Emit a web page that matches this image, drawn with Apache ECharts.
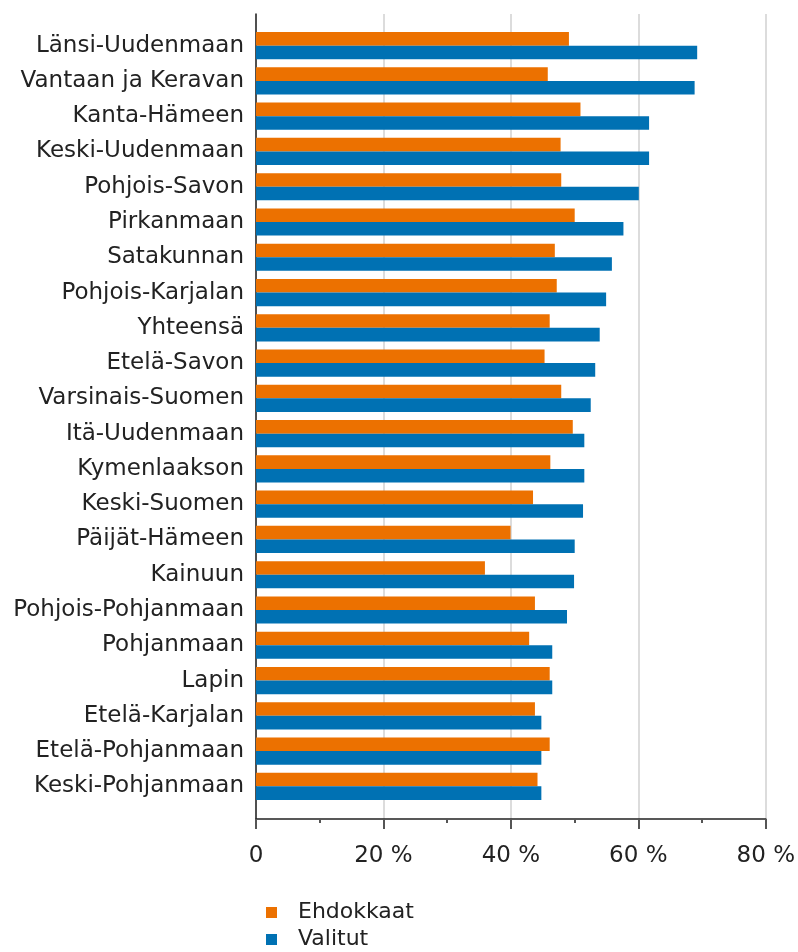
<!DOCTYPE html>
<html>
<head>
<meta charset="utf-8">
<script src="https://cdn.jsdelivr.net/npm/echarts@6/dist/echarts.min.js"></script>
<style>
	html, body { margin: 0; padding: 0; background: #fff; }
	#main { width: 798px; height: 952px; }
</style>
</head>
<body>
<div id="main"></div>
<script>
// kategoriat (ylhäältä alas)
var categories = ['Länsi-Uudenmaan', 'Vantaan ja Keravan', 'Kanta-Hämeen', 'Keski-Uudenmaan',
	'Pohjois-Savon', 'Pirkanmaan', 'Satakunnan', 'Pohjois-Karjalan', 'Yhteensä', 'Etelä-Savon',
	'Varsinais-Suomen', 'Itä-Uudenmaan', 'Kymenlaakson', 'Keski-Suomen', 'Päijät-Hämeen',
	'Kainuun', 'Pohjois-Pohjanmaan', 'Pohjanmaan', 'Lapin', 'Etelä-Karjalan',
	'Etelä-Pohjanmaan', 'Keski-Pohjanmaan'];
// naisten osuus, %
var ehdokkaat = [48.8, 45.5, 50.6, 47.5, 47.6, 49.7, 46.6, 46.9, 45.8, 45.0,
	47.6, 49.4, 45.9, 43.2, 39.7, 35.7, 43.5, 42.6, 45.8, 43.5, 45.8, 43.9];
var valitut = [68.8, 68.4, 61.3, 61.3, 59.7, 57.3, 55.5, 54.6, 53.6, 52.9,
	52.2, 51.2, 51.2, 51.0, 49.7, 49.6, 48.5, 46.2, 46.2, 44.5, 44.5, 44.5];
var seriesNames = ['Ehdokkaat', 'Valitut'];
var xTicks = [0, 20, 40, 60, 80];

var font = "'DejaVu Sans', Verdana, sans-serif";

var myChart = echarts.init(document.getElementById('main'));

var option = {
	backgroundColor: '#fff',
	animation: false,
	textStyle: { fontFamily: font },
	color: ['#ec7100', '#0071b3'],
	legend: {
		data: seriesNames,
		orient: 'vertical',
		left: 266,
		top: 901,
		padding: 0,
		itemWidth: 11,
		itemHeight: 11,
		itemGap: 4,
		icon: 'rect',
		textStyle: {
			color: '#222',
			fontSize: 22,
			lineHeight: 23,
			fontFamily: font,
			padding: [0, 0, 0, 16]
		}
	},
	grid: [
		// palkit
		{ left: 256, right: 29, top: 28, bottom: 148 },
		// akselit ja apuviivat
		{ left: 256, right: 29, top: 14, bottom: 133 }
	],
	xAxis: [{
		gridIndex: 0,
		type: 'value',
		min: 0,
		max: 80,
		show: false
	}, {
		gridIndex: 1,
		type: 'value',
		min: xTicks[0],
		max: xTicks[xTicks.length - 1],
		interval: 20,
		axisLine: { show: true, lineStyle: { color: '#222', width: 1.5 } },
		axisTick: { show: true, length: 10, lineStyle: { color: '#555', width: 2 } },
		minorTick: { show: true, splitNumber: 2, length: 4, lineStyle: { color: '#555', width: 2 } },
		splitLine: { show: true, lineStyle: { color: '#dcdcdc', width: 2 } },
		axisLabel: {
			color: '#222',
			fontSize: 23,
			margin: 26,
			fontFamily: font,
			formatter: function (v) {
				return v === 0 ? '0' : v + ' %';
			}
		}
	}],
	yAxis: [{
		gridIndex: 0,
		type: 'category',
		data: categories,
		inverse: true,
		axisLine: { show: false },
		axisTick: { show: false },
		axisLabel: {
			color: '#222',
			fontSize: 23,
			margin: 12,
			fontFamily: font
		}
	}, {
		gridIndex: 1,
		type: 'value',
		min: 0,
		max: 1,
		axisLine: { show: true, lineStyle: { color: '#222', width: 1.5 } },
		axisTick: { show: false },
		axisLabel: { show: false },
		splitLine: { show: false }
	}],
	series: [{
		name: seriesNames[0],
		type: 'bar',
		xAxisIndex: 0,
		yAxisIndex: 0,
		data: ehdokkaat,
		barGap: '0%',
		barCategoryGap: '23%'
	}, {
		name: seriesNames[1],
		type: 'bar',
		xAxisIndex: 0,
		yAxisIndex: 0,
		data: valitut,
		barGap: '0%',
		barCategoryGap: '23%'
	}]
};

myChart.setOption(option);
</script>
</body>
</html>
